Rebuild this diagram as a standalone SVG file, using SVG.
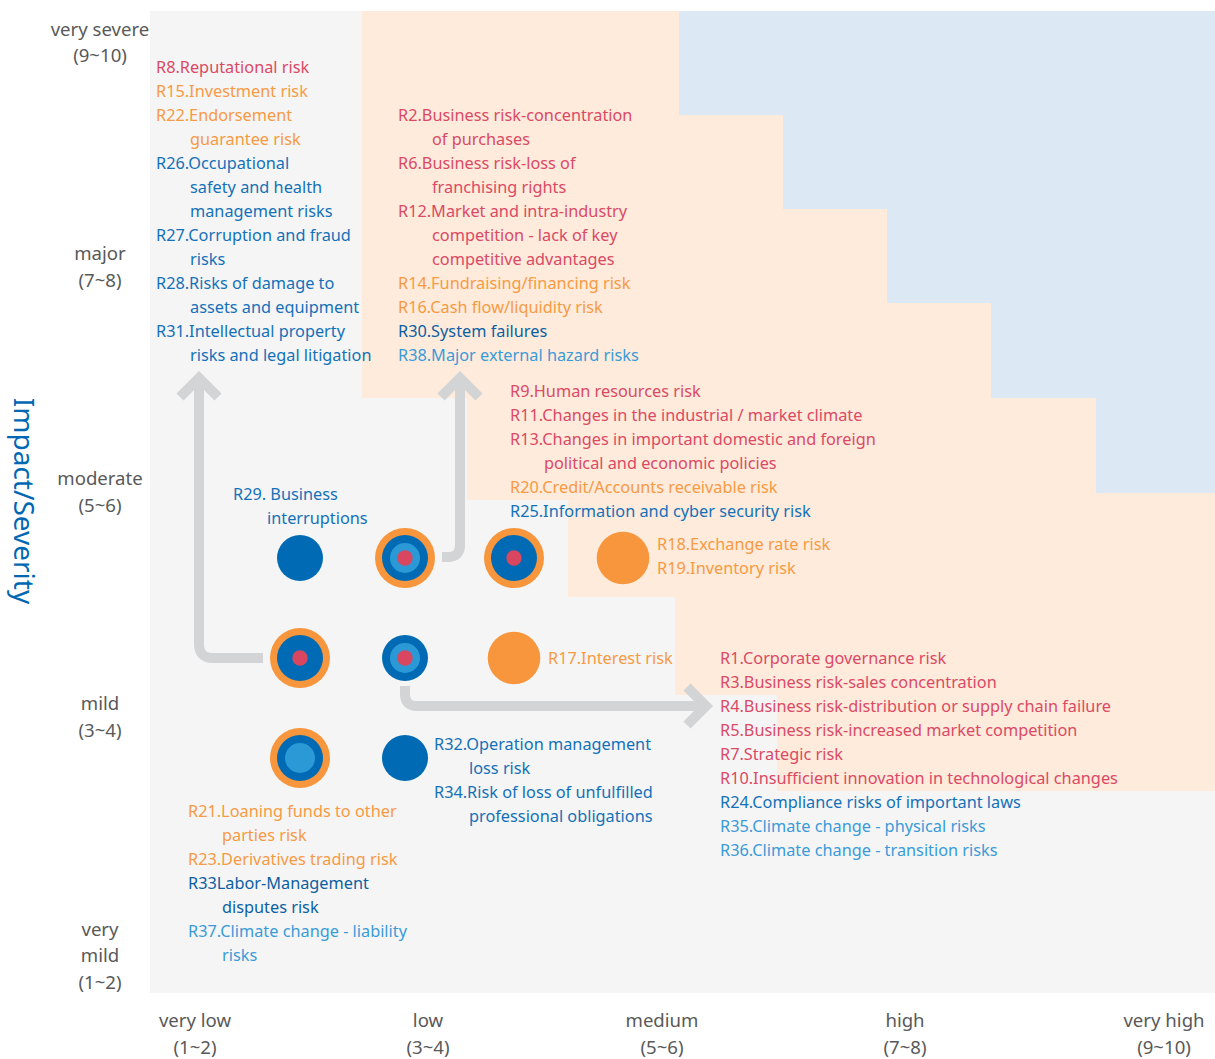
<svg xmlns="http://www.w3.org/2000/svg" width="1215" height="1059" viewBox="0 0 1215 1059">
  <defs>
    <style>
      text { font-family: "Noto Sans", "Open Sans", "DejaVu Sans", sans-serif; font-size: 16.3px; }
      .axis { font-size: 18.6px; fill: #595959; text-anchor: middle; }
      .title { font-size: 28px; fill: #0068b3; text-anchor: middle; }
      .red { fill: #db4965; }
      .org { fill: #f79a44; }
      .blu { fill: #1371b9; }
      .dblu { fill: #0b5fa3; }
      .lblu { fill: #3a9bd8; }
      .conn { fill: none; stroke: #d3d4d6; stroke-width: 10; }
      .c-org { fill: #f7963d; }
      .c-dblu { fill: #006bb4; }
      .c-lblu { fill: #2b99d6; }
      .c-red { fill: #d9465f; }
    </style>
    <marker id="chev" markerUnits="userSpaceOnUse" viewBox="-30 -30 40 60" markerWidth="40" markerHeight="60" refX="0" refY="0" orient="auto" overflow="visible">
      <polyline points="-19,-19 0,0 -19,19" fill="none" stroke="#d3d4d6" stroke-width="10" stroke-linejoin="miter"/>
    </marker>
  </defs>

  <rect width="1215" height="1059" fill="#ffffff"/>

  <!-- risk zones -->
  <g id="zones">
    <rect x="150" y="11" width="1065" height="982" fill="#f5f5f5"/>
    <path d="M362 11 H1215 V791 H777 V695 H675 V597 H568 V500 H467 V398 H362 Z" fill="#feebdb"/>
    <path d="M679 11 H1215 V493 H1096 V398 H991 V303 H887 V209 H783 V115 H679 Z" fill="#dde8f5"/>
  </g>

  <!-- axes -->
  <g id="axis-y">
    <text class="axis" x="100" y="36">very severe</text>
    <text class="axis" x="100" y="62">(9~10)</text>
    <text class="axis" x="100" y="260">major</text>
    <text class="axis" x="100" y="287">(7~8)</text>
    <text class="axis" x="100" y="485">moderate</text>
    <text class="axis" x="100" y="512">(5~6)</text>
    <text class="axis" x="100" y="710">mild</text>
    <text class="axis" x="100" y="737">(3~4)</text>
    <text class="axis" x="100" y="936">very</text>
    <text class="axis" x="100" y="962">mild</text>
    <text class="axis" x="100" y="989">(1~2)</text>
    <text class="title" transform="translate(14 501) rotate(90)">Impact/Severity</text>
  </g>
  <g id="axis-x">
    <text class="axis" x="195" y="1027">very low</text>
    <text class="axis" x="195" y="1054">(1~2)</text>
    <text class="axis" x="428" y="1027">low</text>
    <text class="axis" x="428" y="1054">(3~4)</text>
    <text class="axis" x="662" y="1027">medium</text>
    <text class="axis" x="662" y="1054">(5~6)</text>
    <text class="axis" x="905" y="1027">high</text>
    <text class="axis" x="905" y="1054">(7~8)</text>
    <text class="axis" x="1164" y="1027">very high</text>
    <text class="axis" x="1164" y="1054">(9~10)</text>
  </g>

  <!-- connectors -->
  <g id="connectors">
    <path class="conn" d="M263 658 H213 Q199 658 199 644 V378" marker-end="url(#chev)"/>
    <path class="conn" d="M442 557 H448 Q460 557 460 545 V378" marker-end="url(#chev)"/>
    <path class="conn" d="M405 686 V694 Q405 706 417 706 H706" marker-end="url(#chev)"/>
  </g>

  <!-- risk markers -->
  <g id="node-r29">
    <circle class="c-dblu" cx="300" cy="558" r="23"/>
  </g>
  <g id="node-r38">
    <circle class="c-org" cx="405" cy="558" r="30"/>
    <circle class="c-dblu" cx="405" cy="558" r="23"/>
    <circle class="c-lblu" cx="405" cy="558" r="15"/>
    <circle class="c-red" cx="405" cy="558" r="7.7"/>
  </g>
  <g id="node-r25">
    <circle class="c-org" cx="514" cy="558" r="30"/>
    <circle class="c-dblu" cx="514" cy="558" r="23"/>
    <circle class="c-red" cx="514" cy="558" r="7.7"/>
  </g>
  <g id="node-r18">
    <circle class="c-org" cx="623" cy="558" r="26.3"/>
  </g>
  <g id="node-r31">
    <circle class="c-org" cx="300" cy="658" r="30"/>
    <circle class="c-dblu" cx="300" cy="658" r="23"/>
    <circle class="c-red" cx="300" cy="658" r="7.7"/>
  </g>
  <g id="node-r36">
    <circle class="c-dblu" cx="405" cy="658" r="23"/>
    <circle class="c-lblu" cx="405" cy="658" r="15"/>
    <circle class="c-red" cx="405" cy="658" r="7.7"/>
  </g>
  <g id="node-r17">
    <circle class="c-org" cx="514" cy="658" r="26.3"/>
  </g>
  <g id="node-r37">
    <circle class="c-org" cx="300" cy="758" r="30"/>
    <circle class="c-dblu" cx="300" cy="758" r="23"/>
    <circle class="c-lblu" cx="300" cy="758" r="15"/>
  </g>
  <g id="node-r32">
    <circle class="c-dblu" cx="405" cy="758" r="23"/>
  </g>

  <!-- risk labels -->
  <g id="labels-very-low-severe">
    <text class="red" x="156" y="73">R8.Reputational risk</text>
    <text class="org" x="156" y="97">R15.Investment risk</text>
    <text class="org" x="156" y="121">R22.Endorsement</text>
    <text class="org" x="190" y="145">guarantee risk</text>
    <text class="blu" x="156" y="169">R26.Occupational</text>
    <text class="blu" x="190" y="193">safety and health</text>
    <text class="blu" x="190" y="217">management risks</text>
    <text class="blu" x="156" y="241">R27.Corruption and fraud</text>
    <text class="blu" x="190" y="265">risks</text>
    <text class="blu" x="156" y="289">R28.Risks of damage to</text>
    <text class="blu" x="190" y="313">assets and equipment</text>
    <text class="blu" x="156" y="337">R31.Intellectual property</text>
    <text class="blu" x="190" y="361">risks and legal litigation</text>
  </g>
  <g id="labels-low-major">
    <text class="red" x="398" y="121">R2.Business risk-concentration</text>
    <text class="red" x="432" y="145">of purchases</text>
    <text class="red" x="398" y="169">R6.Business risk-loss of</text>
    <text class="red" x="432" y="193">franchising rights</text>
    <text class="red" x="398" y="217">R12.Market and intra-industry</text>
    <text class="red" x="432" y="241">competition - lack of key</text>
    <text class="red" x="432" y="265">competitive advantages</text>
    <text class="org" x="398" y="289">R14.Fundraising/financing risk</text>
    <text class="org" x="398" y="313">R16.Cash flow/liquidity risk</text>
    <text class="dblu" x="398" y="337">R30.System failures</text>
    <text class="lblu" x="398" y="361">R38.Major external hazard risks</text>
  </g>
  <g id="labels-low-moderate">
    <text class="red" x="510" y="397">R9.Human resources risk</text>
    <text class="red" x="510" y="421">R11.Changes in the industrial / market climate</text>
    <text class="red" x="510" y="445">R13.Changes in important domestic and foreign</text>
    <text class="red" x="544" y="469">political and economic policies</text>
    <text class="org" x="510" y="493">R20.Credit/Accounts receivable risk</text>
    <text class="blu" x="510" y="517">R25.Information and cyber security risk</text>
  </g>
  <g id="labels-r29">
    <text class="blu" x="233" y="500">R29. Business</text>
    <text class="blu" x="267" y="524">interruptions</text>
  </g>
  <g id="labels-r18">
    <text class="org" x="657" y="550">R18.Exchange rate risk</text>
    <text class="org" x="657" y="574">R19.Inventory risk</text>
  </g>
  <g id="labels-r17">
    <text class="org" x="548" y="664">R17.Interest risk</text>
  </g>
  <g id="labels-low-mild">
    <text class="red" x="720" y="664">R1.Corporate governance risk</text>
    <text class="red" x="720" y="688">R3.Business risk-sales concentration</text>
    <text class="red" x="720" y="712">R4.Business risk-distribution or supply chain failure</text>
    <text class="red" x="720" y="736">R5.Business risk-increased market competition</text>
    <text class="red" x="720" y="760">R7.Strategic risk</text>
    <text class="red" x="720" y="784">R10.Insufficient innovation in technological changes</text>
    <text class="blu" x="720" y="808">R24.Compliance risks of important laws</text>
    <text class="lblu" x="720" y="832">R35.Climate change - physical risks</text>
    <text class="lblu" x="720" y="856">R36.Climate change - transition risks</text>
  </g>
  <g id="labels-r32">
    <text class="blu" x="434" y="750">R32.Operation management</text>
    <text class="blu" x="469" y="774">loss risk</text>
    <text class="blu" x="434" y="798">R34.Risk of loss of unfulfilled</text>
    <text class="blu" x="469" y="822">professional obligations</text>
  </g>
  <g id="labels-very-low-mild">
    <text class="org" x="188" y="817">R21.Loaning funds to other</text>
    <text class="org" x="222" y="841">parties risk</text>
    <text class="org" x="188" y="865">R23.Derivatives trading risk</text>
    <text class="dblu" x="188" y="889">R33Labor-Management</text>
    <text class="dblu" x="222" y="913">disputes risk</text>
    <text class="lblu" x="188" y="937">R37.Climate change - liability</text>
    <text class="lblu" x="222" y="961">risks</text>
  </g>
</svg>
